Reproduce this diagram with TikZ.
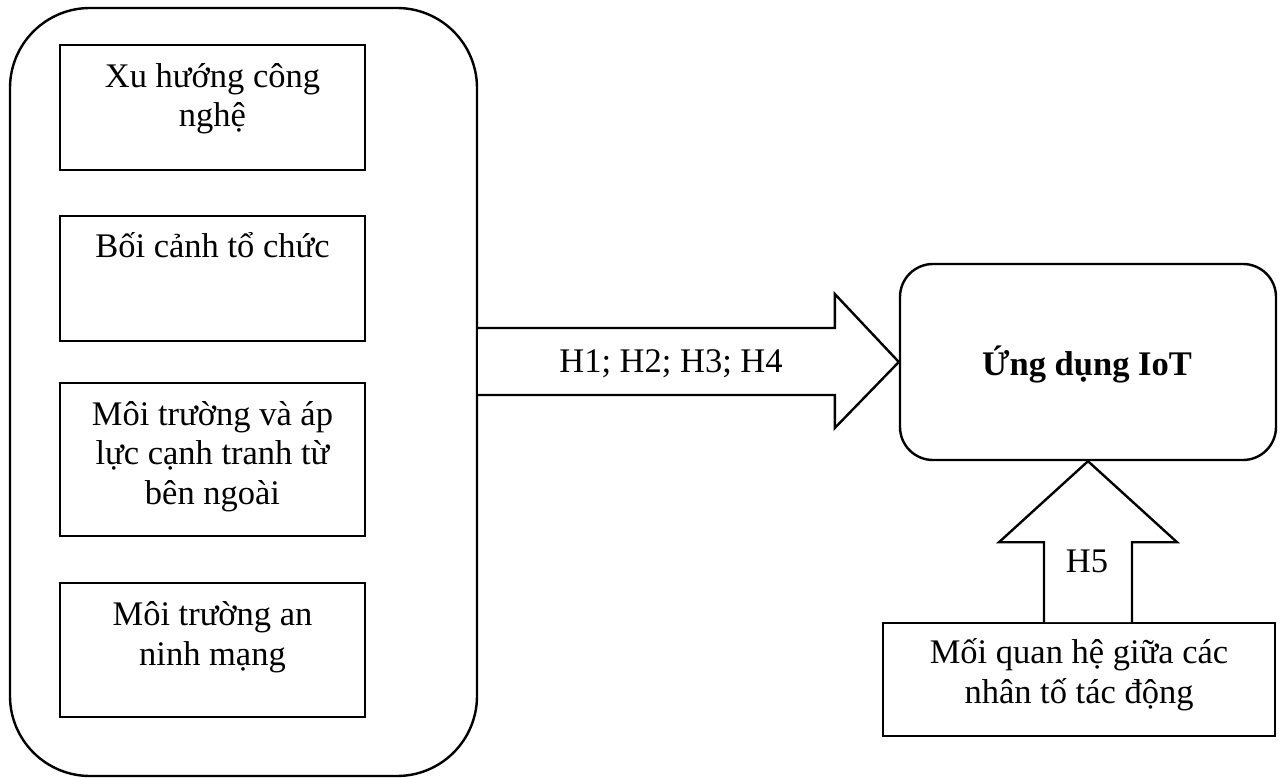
\documentclass[tikz,border=0pt]{standalone}
\usepackage{fontspec}
\setmainfont{Liberation Serif}
\usetikzlibrary{calc}
\begin{document}
\begin{tikzpicture}[x=1pt,y=-1pt,
  thinbox/.style={draw, line width=1.6pt, inner sep=0pt},
  thickbox/.style={draw, line width=2.4pt, inner sep=0pt},
  blockarrow/.style={draw, line width=2.4pt, line join=miter, fill=white},
  lbl/.style={inner sep=0pt, anchor=base, align=center, font=\fontsize{34.5}{39.5}\selectfont}
]
\useasboundingbox (0,0) rectangle (1286,778);
% outer group
\node[thickbox, rounded corners=80pt, minimum width=467pt, minimum height=768pt] (outer) at (243.5,392) {};
% inner boxes
\node[thinbox, minimum width=305pt, minimum height=125pt] (b1) at (212.5,107.5) {};
\node[thinbox, minimum width=305pt, minimum height=125pt] (b2) at (212.5,278.5) {};
\node[thinbox, minimum width=305pt, minimum height=153pt] (b3) at (212.5,459.5) {};
\node[thinbox, minimum width=305pt, minimum height=134pt] (b4) at (212.5,650) {};
\node[lbl] (t1) at (212.5,127) {Xu hướng công\\nghệ};
\node[lbl] (t2) at (212.5,258) {Bối cảnh tổ chức};
\node[lbl] (t3) at (212.5,504) {Môi trường và áp\\lực cạnh tranh từ\\bên ngoài};
\node[lbl] (t4) at (212.5,665) {Môi trường an\\ninh mạng};
% IoT box
\node[thickbox, rounded corners=33pt, minimum width=376pt, minimum height=196pt] (iot) at (1088,362) {};
\node[lbl, font=\fontsize{34.5}{39.5}\selectfont\bfseries] (tiot) at (1087,375) {Ứng dụng IoT};
% bottom box
\node[thinbox, minimum width=392pt, minimum height=113pt] (rel) at (1079,679.5) {};
\node[lbl] (trel) at (1079,703) {Mối quan hệ giữa các\\nhân tố tác động};
% arrow H1-H4
\draw[blockarrow]
  ($(outer.east |- iot.west)+(0,-34)$) -- ($(iot.west)+(-64,-34)$) -- ($(iot.west)+(-64,-68)$)
  -- (iot.west) -- ($(iot.west)+(-64,66)$) -- ($(iot.west)+(-64,33)$) -- ($(outer.east |- iot.west)+(0,33)$);
\node[lbl] (h14) at (671,372) {H1; H2; H3; H4};
% arrow H5
\draw[blockarrow]
  ($(iot.south |- rel.north)+(-44,0)$) -- ($(iot.south)+(-44,81)$) -- ($(iot.south)+(-89,81)$)
  -- (iot.south) -- ($(iot.south)+(89,81)$) -- ($(iot.south)+(44,81)$) -- ($(iot.south |- rel.north)+(44,0)$);
\node[lbl] (h5) at (1087,572) {H5};
\end{tikzpicture}
\end{document}
